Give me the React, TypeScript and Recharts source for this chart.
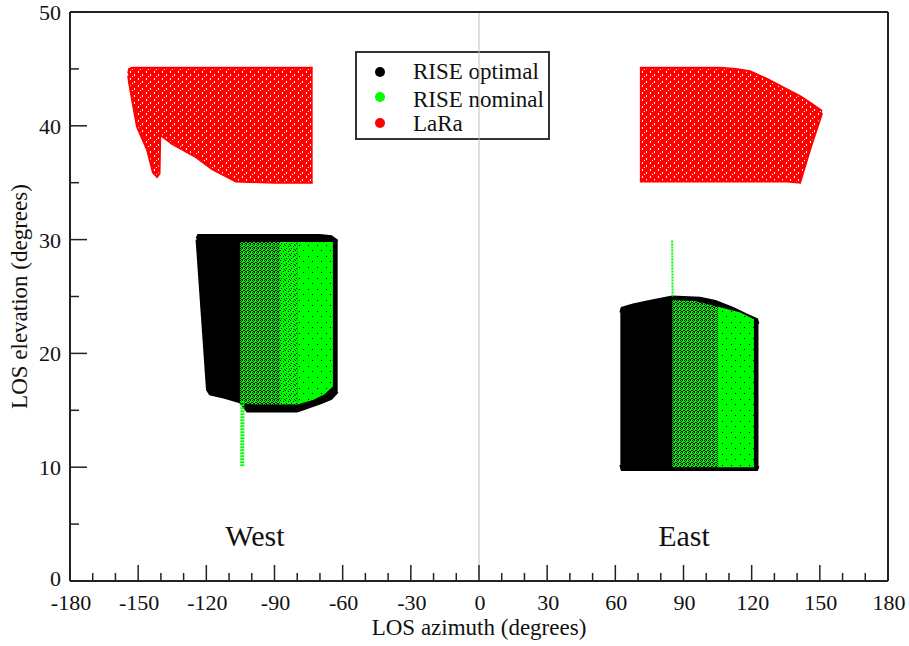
import React from 'react';
import {
  ComposedChart, Area, XAxis, YAxis, ReferenceLine, ReferenceDot, Label, Customized
} from 'recharts';

const SERIF = 'Liberation Serif, Times New Roman, serif';
const AXIS = '#222';
const serifStyle = { fontFamily: SERIF };

const xTicks = [-180, -170, -160, -150, -140, -130, -120, -110, -100, -90, -80, -70, -60, -50, -40, -30, -20, -10,
  0, 10, 20, 30, 40, 50, 60, 70, 80, 90, 100, 110, 120, 130, 140, 150, 160, 170, 180];
const yTicks = [0, 5, 10, 15, 20, 25, 30, 35, 40, 45, 50];

// LaRa, west window (azimuth, lower and upper elevation edge)
const laraWestAz = [-154.4, -154.0, -152.7, -150.5, -146.1, -143.5, -141.7, -140.6, -140.3, -135.1, -125.0, -117.5, -107.0, -90.0, -73.2];
const laraWestLow = [44.4, 43.8, 42.3, 39.9, 37.9, 35.9, 35.5, 35.8, 39.2, 38.4, 37.3, 36.2, 35.1, 35.0, 35.0];
const laraWestHigh = [44.6, 45.0, 45.1, 45.1, 45.1, 45.1, 45.1, 45.1, 45.1, 45.1, 45.1, 45.1, 45.1, 45.1, 45.1];

// LaRa, east window
const laraEastAz = [70.8, 90.0, 106.0, 113.0, 119.3, 127.0, 135.6, 141.3, 146.0, 151.0];
const laraEastLow = [35.1, 35.1, 35.1, 35.1, 35.1, 35.1, 35.1, 35.0, 38.1, 41.1];
const laraEastHigh = [45.1, 45.1, 45.1, 45.0, 44.8, 44.1, 43.2, 42.6, 42.0, 41.3];

// RISE optimal
const optWestAz = [-124.3, -123.6, -122.0, -119.7, -118.4, -112.0, -105.2, -102.0, -90.0, -80.0, -70.0, -65.0, -62.2];
const optWestLow = [30.0, 28.0, 23.4, 16.8, 16.4, 16.1, 15.7, 14.9, 14.9, 14.9, 15.6, 16.0, 16.6];
const optWestHigh = [30.1, 30.4, 30.4, 30.4, 30.4, 30.4, 30.4, 30.4, 30.4, 30.4, 30.4, 30.3, 29.9];

const optEastAz = [62.2, 62.8, 67.8, 75.0, 85.0, 97.3, 104.0, 111.8, 117.0, 122.4, 123.0];
const optEastLow = [10.2, 9.75, 9.75, 9.75, 9.75, 9.75, 9.75, 9.75, 9.75, 9.75, 10.1];
const optEastHigh = [23.6, 24.0, 24.3, 24.6, 25.0, 24.9, 24.6, 24.0, 23.5, 23.0, 22.6];

// RISE nominal, split by density of the scatter
const nomWestDenseAz = [-105.2, -98.0, -91.0, -87.6];
const nomWestDenseLow = [15.6, 15.5, 15.5, 15.5];
const nomWestDenseHigh = [29.8, 29.8, 29.8, 29.8];
const nomWestMidAz = [-87.6, -80.0];
const nomWestMidLow = [15.5, 15.5];
const nomWestMidHigh = [29.8, 29.8];
const nomWestSparseAz = [-80.0, -73.0, -68.0, -64.3];
const nomWestSparseLow = [15.5, 15.9, 16.4, 17.1];
const nomWestSparseHigh = [29.8, 29.8, 29.8, 29.8];

const nomEastDenseAz = [85.0, 95.0, 105.2];
const nomEastDenseLow = [10.0, 10.0, 10.0];
const nomEastDenseHigh = [24.7, 24.6, 24.1];
const nomEastSparseAz = [105.2, 107.4, 115.0, 121.0];
const nomEastSparseLow = [10.0, 10.0, 10.0, 10.0];
const nomEastSparseHigh = [24.1, 24.0, 23.6, 23.0];

const nomWestTail = [{ x: -104.1, y: 15.8 }, { x: -104.2, y: 10.1 }];
const nomEastTail = [{ x: 85.2, y: 25.0 }, { x: 85.0, y: 30.0 }];

const legendNames = ['RISE optimal', 'RISE nominal', 'LaRa'];
const legendColors = ['#000000', '#00ff00', '#ff0000'];

const toRows = (az: number[], lo: number[], hi: number[]) =>
  az.map((x, i) => ({ x, r: [lo[i], hi[i]] }));

const BottomTick = (props: any) => {
  const { x, y, payload } = props;
  const major = payload.value % 30 === 0;
  return (
    <g>
      <line x1={x} y1={y} x2={x} y2={y - (major ? 16 : 8)} stroke={AXIS} strokeWidth={1.5} />
      {major && (
        <text x={x + 1} y={y + 29} textAnchor="middle" style={serifStyle} fontSize={22} fill="#111">
          {payload.value}
        </text>
      )}
    </g>
  );
};

const TopTick = (props: any) => {
  const { x, y, payload } = props;
  const major = payload.value % 30 === 0;
  return <line x1={x} y1={y} x2={x} y2={y + (major ? 16 : 8)} stroke={AXIS} strokeWidth={1.5} />;
};

const LeftTick = (props: any) => {
  const { x, y, payload } = props;
  const major = payload.value % 10 === 0;
  // the 0 label sits a bit higher so it clears the -180 below it
  const dy = payload.value === 0 ? 5 : 8;
  return (
    <g>
      <line x1={x} y1={y} x2={x + (major ? 17 : 9)} y2={y} stroke={AXIS} strokeWidth={1.5} />
      {major && (
        <text x={x - 9} y={y + dy} textAnchor="end" style={serifStyle} fontSize={22} fill="#111">
          {payload.value}
        </text>
      )}
    </g>
  );
};

const RightTick = (props: any) => {
  const { x, y, payload } = props;
  const major = payload.value % 10 === 0;
  return <line x1={x} y1={y} x2={x - (major ? 17 : 9)} y2={y} stroke={AXIS} strokeWidth={1.5} />;
};

const XTitle = (props: any) => {
  const vb = props.viewBox;
  return (
    <text x={vb.x + vb.width / 2} y={vb.y + 54} textAnchor="middle" style={serifStyle} fontSize={23} fill="#111">
      LOS azimuth (degrees)
    </text>
  );
};

const YTitle = (props: any) => {
  const vb = props.viewBox;
  const cx = 27;
  const cy = vb.y + vb.height / 2;
  return (
    <text x={cx} y={cy} transform={`rotate(-90, ${cx}, ${cy})`} textAnchor="middle" style={serifStyle} fontSize={23} fill="#111">
      LOS elevation (degrees)
    </text>
  );
};

const LegendBox = () => {
  const rowsY = [72, 97, 123];
  const textY = [79, 107, 131];
  return (
    <g>
      <rect x={356} y={52} width={193} height={87} fill="#fff" stroke="#333" strokeWidth={2} />
      {legendNames.map((name, i) => (
        <g key={name}>
          <circle cx={380} cy={rowsY[i]} r={5} fill={legendColors[i]} />
          <text x={413} y={textY[i]} style={serifStyle} fontSize={23} fill="#111">{name}</text>
        </g>
      ))}
    </g>
  );
};

const App = () => {
  return (
    <div style={{ position: 'absolute', left: 0, top: 0, width: 909, height: 646, background: '#fff', fontFamily: SERIF }}>
      <ComposedChart width={909} height={646} margin={{ top: 11, right: 20, left: 0, bottom: 0 }}>
        <defs>
          <pattern id="laraFill" width="8" height="7" patternUnits="userSpaceOnUse">
            <rect width="8" height="7" fill="#ff0000" />
            <rect x="2" y="1" width="1" height="2" fill="#fff" />
            <rect x="6" y="4" width="1" height="2" fill="#fff" />
            <rect x="4" y="6" width="1" height="1" fill="#fff" />
          </pattern>
          <pattern id="nomDense" width="4" height="4" patternUnits="userSpaceOnUse">
            <rect width="4" height="4" fill="#00ff00" />
            <rect x="0" y="0" width="1" height="1" fill="#000" />
            <rect x="2" y="0" width="1" height="1" fill="#000" />
            <rect x="1" y="1" width="1" height="1" fill="#000" />
            <rect x="3" y="2" width="1" height="1" fill="#000" />
            <rect x="0" y="2" width="1" height="1" fill="#000" />
            <rect x="1" y="3" width="2" height="1" fill="#000" />
          </pattern>
          <pattern id="nomMid" width="5" height="5" patternUnits="userSpaceOnUse">
            <rect width="5" height="5" fill="#00ff00" />
            <rect x="0" y="0" width="1" height="1" fill="#000" />
            <rect x="3" y="1" width="1" height="1" fill="#000" />
            <rect x="1" y="3" width="1" height="1" fill="#000" />
            <rect x="4" y="4" width="1" height="1" fill="#000" />
          </pattern>
          <pattern id="nomSparse" width="9" height="11" patternUnits="userSpaceOnUse">
            <rect width="9" height="11" fill="#00ff00" />
            <rect x="2" y="3" width="1" height="1" fill="#000" />
            <rect x="6" y="8" width="1" height="1" fill="#000" />
          </pattern>
        </defs>

        <XAxis
          xAxisId={0}
          dataKey="x"
          type="number"
          domain={[-180, 180]}
          ticks={xTicks}
          interval={0}
          height={65}
          tickSize={0}
          tickMargin={0}
          tickLine={false}
          tick={BottomTick}
          axisLine={{ stroke: AXIS, strokeWidth: 2 }}
        >
          <Label content={XTitle} />
        </XAxis>
        <XAxis
          xAxisId="top"
          orientation="top"
          type="number"
          domain={[-180, 180]}
          ticks={xTicks}
          interval={0}
          height={1}
          tickSize={0}
          tickMargin={0}
          tickLine={false}
          tick={TopTick}
          axisLine={{ stroke: AXIS, strokeWidth: 2 }}
        />
        <YAxis
          yAxisId={0}
          type="number"
          domain={[0, 50]}
          ticks={yTicks}
          interval={0}
          width={70}
          tickSize={0}
          tickMargin={0}
          tickLine={false}
          tick={LeftTick}
          axisLine={{ stroke: AXIS, strokeWidth: 2 }}
        >
          <Label content={YTitle} />
        </YAxis>
        <YAxis
          yAxisId="right"
          orientation="right"
          type="number"
          domain={[0, 50]}
          ticks={yTicks}
          interval={0}
          width={1}
          tickSize={0}
          tickMargin={0}
          tickLine={false}
          tick={RightTick}
          axisLine={{ stroke: AXIS, strokeWidth: 2 }}
        />

        <ReferenceLine x={0} stroke="#bdbdbd" strokeWidth={1} />

        <Area data={toRows(optWestAz, optWestLow, optWestHigh)} dataKey="r" type="linear"
          fill="#000" fillOpacity={1} stroke="#000" strokeWidth={2} dot={false} activeDot={false} isAnimationActive={false} />
        <Area data={toRows(optEastAz, optEastLow, optEastHigh)} dataKey="r" type="linear"
          fill="#000" fillOpacity={1} stroke="#000" strokeWidth={2} dot={false} activeDot={false} isAnimationActive={false} />

        <Area data={toRows(nomWestDenseAz, nomWestDenseLow, nomWestDenseHigh)} dataKey="r" type="linear"
          fill="url(#nomDense)" fillOpacity={1} stroke="none" dot={false} activeDot={false} isAnimationActive={false} />
        <Area data={toRows(nomWestMidAz, nomWestMidLow, nomWestMidHigh)} dataKey="r" type="linear"
          fill="url(#nomMid)" fillOpacity={1} stroke="none" dot={false} activeDot={false} isAnimationActive={false} />
        <Area data={toRows(nomWestSparseAz, nomWestSparseLow, nomWestSparseHigh)} dataKey="r" type="linear"
          fill="url(#nomSparse)" fillOpacity={1} stroke="none" dot={false} activeDot={false} isAnimationActive={false} />
        <Area data={toRows(nomEastDenseAz, nomEastDenseLow, nomEastDenseHigh)} dataKey="r" type="linear"
          fill="url(#nomDense)" fillOpacity={1} stroke="none" dot={false} activeDot={false} isAnimationActive={false} />
        <Area data={toRows(nomEastSparseAz, nomEastSparseLow, nomEastSparseHigh)} dataKey="r" type="linear"
          fill="url(#nomSparse)" fillOpacity={1} stroke="none" dot={false} activeDot={false} isAnimationActive={false} />

        <Area data={toRows(laraWestAz, laraWestLow, laraWestHigh)} dataKey="r" type="linear"
          fill="url(#laraFill)" fillOpacity={1} stroke="#ff0000" strokeWidth={2} dot={false} activeDot={false} isAnimationActive={false} />
        <Area data={toRows(laraEastAz, laraEastLow, laraEastHigh)} dataKey="r" type="linear"
          fill="url(#laraFill)" fillOpacity={1} stroke="#ff0000" strokeWidth={2} dot={false} activeDot={false} isAnimationActive={false} />

        <ReferenceLine segment={nomWestTail} stroke="#00ff00" strokeWidth={4} strokeDasharray="2 1" />
        <ReferenceLine segment={nomEastTail} stroke="#00ff00" strokeWidth={2} strokeDasharray="2 1" />

        <ReferenceDot x={-98.6} y={4.05} r={1} fill="none" stroke="none"
          label={{ value: 'West', position: 'center', fontSize: 30, style: serifStyle, fill: '#111' }} />
        <ReferenceDot x={90.2} y={4.05} r={1} fill="none" stroke="none"
          label={{ value: 'East', position: 'center', fontSize: 30, style: serifStyle, fill: '#111' }} />

        <Customized component={<LegendBox />} />
      </ComposedChart>
    </div>
  );
};

export default App;
